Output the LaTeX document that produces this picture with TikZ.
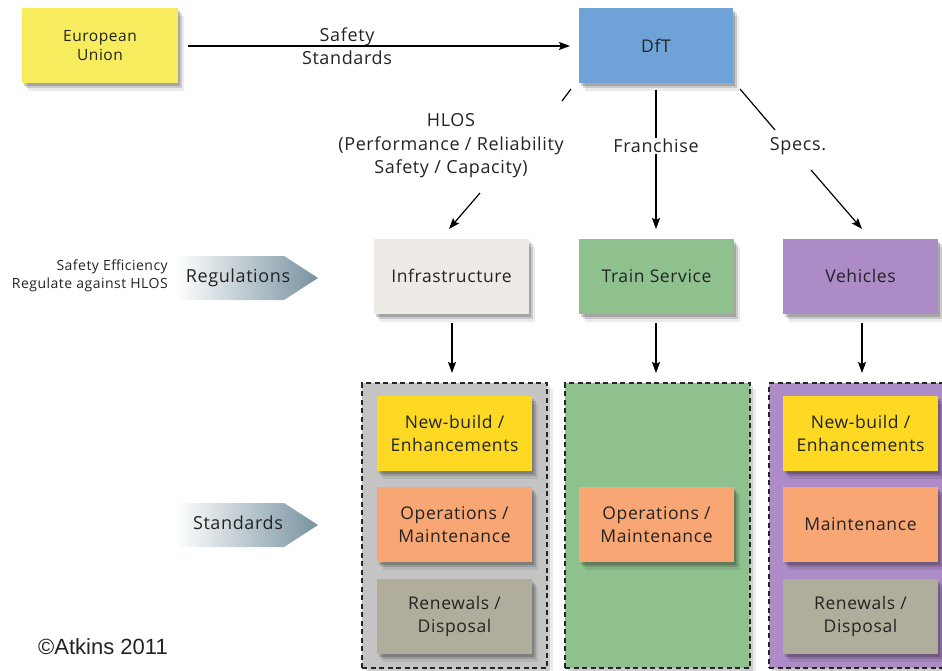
\documentclass[tikz,border=0pt]{standalone}
\usepackage{fontspec}
\setmainfont{Open Sans}[LetterSpace=3.5]
\newfontfamily\arialfont{Liberation Sans}
\usetikzlibrary{shadows,arrows.meta}
\definecolor{euyel}{RGB}{247,236,94}
\definecolor{dftblue}{RGB}{111,163,216}
\definecolor{infragrey}{RGB}{238,235,230}
\definecolor{tsgreen}{RGB}{143,193,143}
\definecolor{vehpurple}{RGB}{173,139,198}
\definecolor{contgrey}{RGB}{196,196,196}
\definecolor{nbyellow}{RGB}{253,217,35}
\definecolor{oporange}{RGB}{248,166,116}
\definecolor{rnkhaki}{RGB}{176,173,157}
\definecolor{arrowgrey}{RGB}{120,146,160}
\definecolor{txt}{RGB}{35,35,35}
\tikzset{
  softshadow/.style={
    drop shadow={shadow xshift=2pt, shadow yshift=-3pt, opacity=0.18, fill=black},
    drop shadow={shadow xshift=4pt, shadow yshift=-5pt, opacity=0.14, fill=black},
    drop shadow={shadow xshift=6pt, shadow yshift=-8pt, opacity=0.08, fill=black}},
  box/.style={minimum width=155pt, minimum height=75pt, inner sep=2pt, align=center,
    text=txt, font=\fontsize{17.5}{23}\selectfont, softshadow},
  container/.style={draw=black!85, line width=1.1pt, dash pattern=on 5pt off 3.5pt,
    minimum width=185pt, minimum height=285pt,
    drop shadow={shadow xshift=3pt, shadow yshift=-3pt, opacity=0.12, fill=black},
    drop shadow={shadow xshift=6pt, shadow yshift=-6pt, opacity=0.08, fill=black}},
  conn/.style={line width=1.2pt, black},
  arr/.style={conn, -{Stealth[length=11pt, width=8pt, inset=2pt]}},
  lbl/.style={text=txt, font=\fontsize{18}{23.5}\selectfont, align=center, inner sep=1pt},
}
\begin{document}
\begin{tikzpicture}[x=1pt,y=-1pt]
\useasboundingbox (0,0) rectangle (942,671);
% top row
\node[box, fill=euyel, minimum width=156pt, font=\fontsize{15.5}{18.5}\selectfont] (eu) at (100,45.5) {European\\Union};
\node[box, fill=dftblue, minimum width=154pt] (dft) at (656,45.5) {DfT};
\coordinate (euR) at (188,46);
\coordinate (dftL) at (570,46);
\draw[arr] (euR) -- (dftL);
\node[lbl] (ss) at (347,46) {Safety\\Standards};
% second row
\node[box, fill=infragrey] (infra) at (451.5,276) {Infrastructure};
\node[box, fill=tsgreen] (ts) at (656.5,276) {Train Service};
\node[box, fill=vehpurple] (veh) at (860.5,276) {Vehicles};
% DfT connectors
\node[lbl] (hlos) at (451,146) {HLOS\\(Performance / Reliability\\Safety / Capacity)};
\node[lbl] (fr) at (656,146) {Franchise};
\node[lbl] (sp) at (798,146) {Specs.};
\coordinate (h1) at (571,89);
\coordinate (h2) at (562,101);
\coordinate (h3) at (480,193);
\coordinate (h4) at (449,229);
\draw[conn] (h1) -- (h2);
\draw[arr] (h3) -- (h4);
\coordinate (f1) at (656,90);
\draw[conn] (f1) -- (fr.north);
\coordinate (f4) at (656,229);
\draw[arr] (fr.south) -- (f4);
\coordinate (s1) at (740,89);
\coordinate (s2) at (775,130);
\coordinate (s3) at (811,170);
\coordinate (s4) at (862,229);
\draw[conn] (s1) -- (s2);
\draw[arr] (s3) -- (s4);
% containers
\node[container, fill=contgrey] (c1) at (454.5,525.5) {};
\node[container, fill=tsgreen] (c2) at (657.5,525.5) {};
\node[container, fill=vehpurple, minimum width=200pt] (c3) at (869,525.5) {};
% down arrows
\coordinate (d1) at (452,323); \coordinate (d1e) at (452,373);
\coordinate (d2) at (656,323); \coordinate (d2e) at (656,373);
\coordinate (d3) at (862,323); \coordinate (d3e) at (862,373);
\draw[arr] (d1) -- (d1e);
\draw[arr] (d2) -- (d2e);
\draw[arr] (d3) -- (d3e);
% inner boxes
\node[box, fill=nbyellow] (nb1) at (454.5,433.5) {New-build /\\Enhancements};
\node[box, fill=oporange] (om1) at (454.5,524.5) {Operations /\\Maintenance};
\node[box, fill=rnkhaki] (rd1) at (454.5,616) {Renewals /\\Disposal};
\node[box, fill=oporange] (om2) at (656.5,524.5) {Operations /\\Maintenance};
\node[box, fill=nbyellow] (nb3) at (860.5,433.5) {New-build /\\Enhancements};
\node[box, fill=oporange] (m3) at (860.5,524.5) {Maintenance};
\node[box, fill=rnkhaki] (rd3) at (860.5,616) {Renewals /\\Disposal};
% side arrows
\shade[left color=white, right color=arrowgrey] (175,256) -- (284,256) -- (318,278) -- (284,300) -- (175,300) -- cycle;
\node[lbl] (reg) at (238,278) {Regulations};
\node[text=txt, font=\fontsize{14}{18}\selectfont, align=right, anchor=east, inner sep=0pt] (se) at (168,275.5) {Safety Efficiency\\Regulate against HLOS};
\shade[left color=white, right color=arrowgrey] (175,503) -- (284,503) -- (318,525) -- (284,547) -- (175,547) -- cycle;
\node[lbl] (std) at (238,523) {Standards};
\node[text=txt, font=\arialfont\fontsize{22}{24}\selectfont, inner sep=0pt, anchor=west] (copy) at (38,647) {\textcopyright Atkins 2011};
\end{tikzpicture}
\end{document}
